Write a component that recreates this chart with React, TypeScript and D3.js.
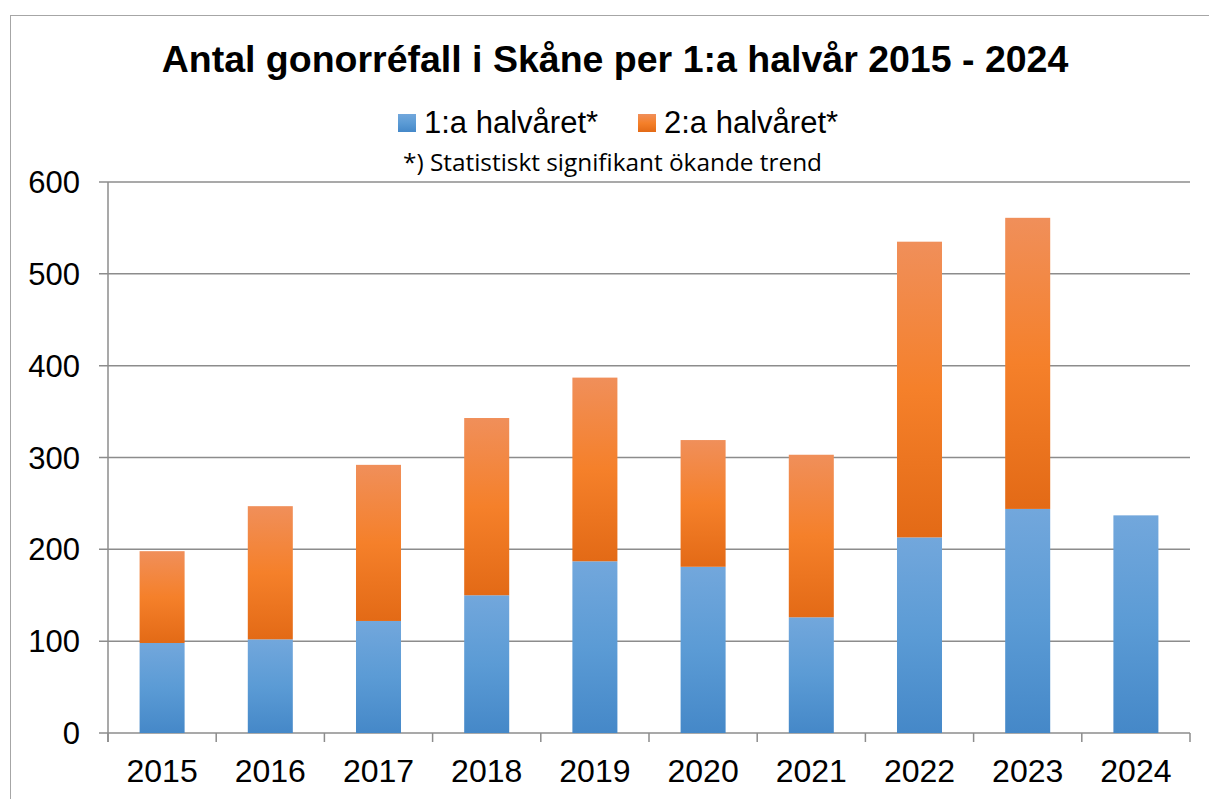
import React, { useEffect, useRef } from 'react';
import * as d3 from 'd3';

const years = ['2015', '2016', '2017', '2018', '2019', '2020', '2021', '2022', '2023', '2024'];
const firstHalf = [98, 102, 122, 150, 187, 181, 126, 213, 244, 237];
const secondHalf = [100, 145, 170, 193, 200, 138, 177, 322, 317, 0];
const seriesNames = ['1:a halvåret*', '2:a halvåret*'];
const yTicks = [0, 100, 200, 300, 400, 500, 600];

const App = () => {
    const chartRef = useRef<HTMLDivElement>(null);

    useEffect(() => {
        const width = 1209;
        const height = 799;
        const margin = { top: 182, right: 19, bottom: 66, left: 108 };
        const chartWidth = width - margin.left - margin.right;
        const chartHeight = height - margin.top - margin.bottom;

        const rows = years.map((y, i) => ({ year: y, first: firstHalf[i], second: secondHalf[i] }));
        const stacked = d3.stack<any>().keys(['first', 'second'])(rows);

        const xScale = d3.scaleBand().domain(years).range([0, chartWidth]).padding(0);
        const yScale = d3.scaleLinear().domain([0, 600]).range([chartHeight, 0]);
        const barW = xScale.bandwidth() * 0.416;

        const svg = d3.select(chartRef.current)
            .append('svg')
            .attr('width', width)
            .attr('height', height)
            .style('position', 'absolute')
            .style('left', 0)
            .style('top', 0)
            .style('font-family', 'Liberation Sans, Arial, sans-serif');

        const defs = svg.append('defs');
        const blue = defs.append('linearGradient').attr('id', 'gBlue').attr('x1', 0).attr('y1', 0).attr('x2', 0).attr('y2', 1);
        blue.append('stop').attr('offset', '0%').attr('stop-color', '#72a7dc');
        blue.append('stop').attr('offset', '50%').attr('stop-color', '#5b9bd5');
        blue.append('stop').attr('offset', '100%').attr('stop-color', '#4588c8');
        const orange = defs.append('linearGradient').attr('id', 'gOrange').attr('x1', 0).attr('y1', 0).attr('x2', 0).attr('y2', 1);
        orange.append('stop').attr('offset', '0%').attr('stop-color', '#f08f5a');
        orange.append('stop').attr('offset', '50%').attr('stop-color', '#f5802a');
        orange.append('stop').attr('offset', '100%').attr('stop-color', '#e36a16');
        const fills = ['url(#gBlue)', 'url(#gOrange)'];

        // outer frame
        svg.append('rect')
            .attr('x', 10.5).attr('y', 15.5)
            .attr('width', 1300).attr('height', 900)
            .attr('fill', 'white').attr('stroke', '#a6a6a6');

        svg.append('text')
            .attr('x', 615).attr('y', 72)
            .attr('text-anchor', 'middle')
            .style('font-size', '37.5px').style('font-weight', 'bold')
            .text('Antal gonorréfall i Skåne per 1:a halvår 2015 - 2024');

        // legend
        const legendX = [398, 638];
        seriesNames.forEach((name, i) => {
            svg.append('rect')
                .attr('x', legendX[i]).attr('y', 114)
                .attr('width', 18).attr('height', 18)
                .attr('fill', fills[i]);
            svg.append('text')
                .attr('x', legendX[i] + 26).attr('y', 133)
                .style('font-size', '31px')
                .text(name);
        });

        svg.append('text')
            .attr('x', 403).attr('y', 171)
            .style('font-family', 'Open Sans, sans-serif')
            .style('font-size', '23px')
            .attr('textLength', 419)
            .attr('lengthAdjust', 'spacingAndGlyphs')
            .text('*) Statistiskt signifikant ökande trend');

        const chart = svg.append('g').attr('transform', `translate(${margin.left},${margin.top})`);

        // gridlines
        chart.selectAll('.grid')
            .data(yTicks)
            .enter()
            .append('line')
            .attr('x1', -9).attr('x2', chartWidth)
            .attr('y1', (d) => yScale(d)).attr('y2', (d) => yScale(d))
            .attr('stroke', '#8c8c8c').attr('stroke-width', 1.5);

        chart.selectAll('.ylab')
            .data(yTicks)
            .enter()
            .append('text')
            .attr('x', -28).attr('y', (d) => yScale(d) + 11)
            .attr('text-anchor', 'end')
            .style('font-size', '31px')
            .text((d) => d);

        chart.append('line')
            .attr('x1', 0).attr('x2', 0).attr('y1', 0).attr('y2', chartHeight + 9)
            .attr('stroke', '#8c8c8c').attr('stroke-width', 1.5);

        chart.selectAll('.xtick')
            .data(years.concat(['end']))
            .enter()
            .append('line')
            .attr('x1', (d, i) => i * xScale.step()).attr('x2', (d, i) => i * xScale.step())
            .attr('y1', chartHeight).attr('y2', chartHeight + 9)
            .attr('stroke', '#8c8c8c').attr('stroke-width', 1.5);

        chart.selectAll('.series')
            .data(stacked)
            .enter()
            .append('g')
            .attr('fill', (d, i) => fills[i])
            .selectAll('rect')
            .data((d) => d.filter((p) => p[1] > p[0]))
            .enter()
            .append('rect')
            .attr('x', (d) => xScale(d.data.year)! + (xScale.bandwidth() - barW) / 2)
            .attr('y', (d) => yScale(d[1]))
            .attr('width', barW)
            .attr('height', (d) => yScale(d[0]) - yScale(d[1]));

        chart.selectAll('.xlab')
            .data(years)
            .enter()
            .append('text')
            .attr('x', (d) => xScale(d)! + xScale.bandwidth() / 2)
            .attr('y', chartHeight + 49)
            .attr('text-anchor', 'middle')
            .style('font-size', '32px')
            .text((d) => d);

        return () => {
            svg.remove();
        };
    }, []);

    return <div ref={chartRef}></div>;
};

export default App;
